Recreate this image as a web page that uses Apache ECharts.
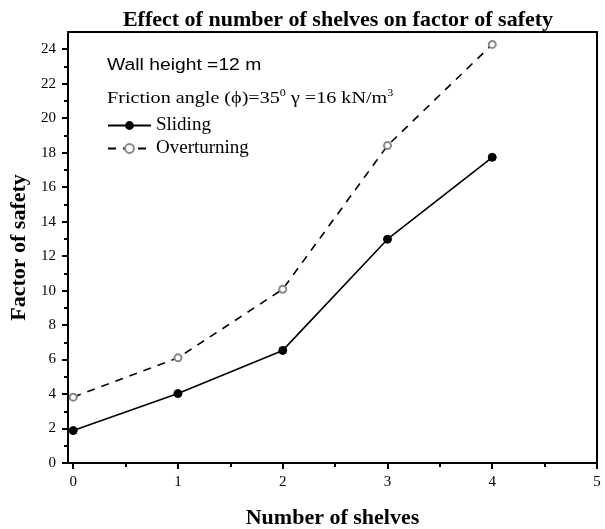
<!DOCTYPE html>
<html>
<head>
<meta charset="utf-8">
<script src="https://cdn.jsdelivr.net/npm/echarts@6/dist/echarts.min.js"></script>
<style>
html,body{margin:0;padding:0;background:#fff;}
#chart{width:605px;height:529px;}
</style>
</head>
<body>
<div id="chart"></div>
<script>
const shelves = [0, 1, 2, 3, 4];
const sliding = [1.88, 4.03, 6.53, 12.98, 17.73];
const overturning = [3.82, 6.10, 10.08, 18.41, 24.28];
const xTickValues = [0, 1, 2, 3, 4, 5];
const xMinorValues = [0.5, 1.5, 2.5, 3.5, 4.5];
const yTickValues = [0, 2, 4, 6, 8, 10, 12, 14, 16, 18, 20, 22, 24];
const yMinorValues = [1, 3, 5, 7, 9, 11, 13, 15, 17, 19, 21, 23];

const serif = 'Liberation Serif';
const chart = echarts.init(document.getElementById('chart'), null, {renderer: 'canvas'});

const majorTick = {length: 6, lineStyle: {color: '#000', width: 2}};
const minorTick = {length: 4, lineStyle: {color: '#000', width: 2}};

const option = {
  animation: false,
  backgroundColor: '#fff',
  title: {
    text: 'Effect of number of shelves on factor of safety',
    left: 333, top: 4, textAlign: 'center',
    textStyle: {fontFamily: serif, fontWeight: 'bold', fontSize: 22, color: '#000'}
  },
  grid: {left: 68, right: 8, top: 32, bottom: 66, show: true, borderColor: '#000', borderWidth: 2, backgroundColor: 'transparent', containLabel: false, outerBoundsMode: 'none'},
  legend: {
    orient: 'vertical', left: 102, top: 111,
    itemWidth: 43, itemHeight: 11, itemGap: 4,
    textStyle: {fontFamily: serif, fontSize: 19, color: '#000'},
    data: ['Sliding', 'Overturning']
  },
  xAxis: [{
    type: 'value', min: -0.05, max: 5,
    name: 'Number of shelves', nameLocation: 'middle', nameGap: 44,
    nameTextStyle: {fontFamily: serif, fontWeight: 'bold', fontSize: 22, color: '#000'},
    axisLine: {show: true, onZero: false, lineStyle: {color: '#000', width: 2}},
    axisTick: Object.assign({show: true, inside: false, customValues: xTickValues}, majorTick),
    axisLabel: {customValues: xTickValues, margin: 12, fontFamily: serif, fontSize: 15, color: '#000'},
    splitLine: {show: false}
  }, {
    type: 'value', min: -0.05, max: 5, position: 'bottom',
    axisLine: {show: false, onZero: false},
    axisTick: Object.assign({show: true, inside: false, customValues: xMinorValues}, minorTick),
    axisLabel: {show: false},
    splitLine: {show: false}
  }],
  yAxis: [{
    type: 'value', min: 0, max: 25,
    name: 'Factor of safety', nameLocation: 'middle', nameGap: 32,
    nameTextStyle: {fontFamily: serif, fontWeight: 'bold', fontSize: 22, color: '#000'},
    axisLine: {show: true, onZero: false, lineStyle: {color: '#000', width: 2}},
    axisTick: Object.assign({show: true, inside: false, customValues: yTickValues}, majorTick),
    axisLabel: {customValues: yTickValues, margin: 12, fontFamily: serif, fontSize: 15, color: '#000'},
    splitLine: {show: false}
  }, {
    type: 'value', min: 0, max: 25, position: 'left',
    axisLine: {show: false, onZero: false},
    axisTick: Object.assign({show: true, inside: false, customValues: yMinorValues}, minorTick),
    axisLabel: {show: false},
    splitLine: {show: false}
  }],
  graphic: [{
    type: 'text', x: 107, y: 57, scaleX: 1.15,
    style: {text: 'Wall height =12 m', font: '16.8px "Liberation Sans"', fill: '#000'}
  }, {
    type: 'text', x: 107, y: 88, scaleX: 1.15,
    style: {
      text: 'Friction angle (ϕ)=35{sup|0} γ =16 kN/m{sup|3}',
      fontFamily: serif, fontSize: 17.5, fill: '#000',
      rich: {sup: {fontFamily: serif, fontSize: 10.5, verticalAlign: 'top', padding: [0, 0, 10, 0], fill: '#000'}}
    }
  }],
  series: [{
    name: 'Sliding', type: 'line', xAxisIndex: 0, yAxisIndex: 0,
    data: shelves.map((x, i) => [x, sliding[i]]),
    symbol: 'circle', symbolSize: 8,
    itemStyle: {color: '#000', borderColor: '#000'},
    lineStyle: {color: '#000', width: 1.6, type: 'solid'}
  }, {
    name: 'Overturning', type: 'line', xAxisIndex: 0, yAxisIndex: 0,
    data: shelves.map((x, i) => [x, overturning[i]]),
    symbol: 'emptyCircle', symbolSize: 7,
    itemStyle: {color: '#888', borderColor: '#888', borderWidth: 1},
    lineStyle: {color: '#000', width: 1.6, type: [8, 7]}
  }]
};
chart.setOption(option);
</script>
</body>
</html>
